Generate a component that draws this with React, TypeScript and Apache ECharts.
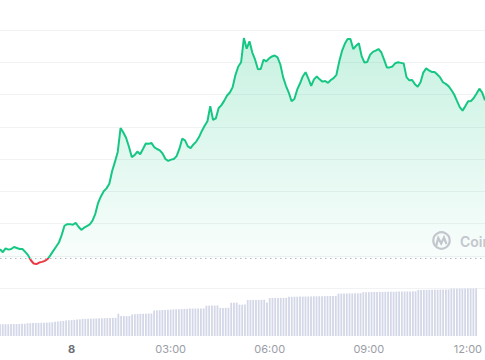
import React, { useEffect, useRef } from "react";
import * as echarts from "echarts";

// price (unitless, gridlines every 10), one point per 5 minutes starting 21:50
const priceValues: number[] = [
  12.0, 11.1, 12.3, 11.9, 12.1, 12.7, 12.4, 12.1, 12.1, 11.2,
  10.2, 8.6, 7.6, 7.4, 7.9, 8.1, 8.4, 9.0, 10.2, 11.5,
  12.8, 14.1, 16.4, 19.3, 19.8, 19.8, 19.6, 20.2, 19.0, 18.0,
  18.7, 19.2, 19.7, 20.9, 23.0, 26.4, 28.4, 30.0, 30.9, 32.3,
  36.3, 39.1, 42.2, 49.6, 48.2, 46.5, 43.8, 40.6, 41.2, 42.3,
  41.5, 43.1, 44.8, 44.7, 45.0, 43.7, 43.1, 42.7, 41.7, 40.0,
  39.4, 39.8, 40.0, 40.9, 43.2, 46.3, 45.8, 43.9, 43.4, 44.5,
  45.4, 46.8, 48.7, 50.3, 51.7, 56.4, 52.1, 52.6, 55.8, 56.7,
  58.1, 59.7, 60.6, 62.3, 66.1, 68.7, 70.0, 77.5, 74.2, 76.5,
  73.0, 70.8, 67.8, 67.9, 70.8, 70.3, 71.2, 71.8, 72.1, 71.5,
  69.3, 65.3, 62.7, 60.6, 57.9, 58.6, 61.5, 63.4, 65.6, 66.9,
  64.9, 62.7, 64.7, 65.6, 64.7, 64.0, 64.2, 63.6, 64.5, 65.1,
  66.1, 70.2, 73.5, 75.7, 77.2, 77.2, 74.1, 75.1, 75.9, 71.9,
  69.9, 70.1, 72.3, 73.2, 73.6, 74.1, 73.1, 70.8, 68.4, 68.4,
  68.7, 69.7, 70.0, 69.8, 69.6, 65.4, 64.4, 64.5, 63.2, 62.4,
  63.8, 66.8, 68.1, 67.5, 67.0, 67.0, 66.2, 65.3, 63.8, 63.3,
  62.6, 61.4, 60.0, 58.0, 56.1, 55.0, 56.4, 57.9, 58.0, 58.9,
  60.3, 61.8, 60.6, 58.2,
];

const volumeValues: number[] = [
  12.0, 12.0, 12.1, 12.1, 12.2, 12.2, 12.3, 12.3, 12.4, 12.5,
  13.0, 13.1, 13.2, 13.3, 13.4, 13.5, 13.6, 13.7, 13.8, 14.0,
  14.5, 14.8, 15.1, 15.4, 15.7, 16.0, 16.2, 16.5, 16.8, 17.0,
  17.5, 17.5, 17.6, 17.7, 17.8, 17.9, 18.0, 18.1, 18.2, 18.3,
  18.4, 18.5, 18.5, 22.7, 20.3, 20.3, 20.3, 20.4, 22.0, 22.2,
  22.4, 22.6, 22.7, 22.8, 22.9, 23.0, 26.0, 26.1, 26.3, 26.5,
  26.6, 26.8, 27.0, 27.1, 27.3, 27.4, 27.5, 27.6, 27.7, 28.0,
  28.0, 28.1, 28.1, 28.2, 28.2, 31.0, 31.0, 31.1, 31.1, 31.2,
  28.7, 28.7, 28.8, 28.8, 34.0, 34.0, 34.1, 32.0, 32.0, 32.1,
  36.7, 36.7, 36.8, 36.8, 36.9, 36.9, 37.0, 34.3, 38.7, 38.7,
  38.8, 38.8, 38.9, 38.9, 39.0, 40.0, 40.0, 40.1, 40.1, 40.2,
  40.2, 40.3, 40.3, 40.4, 40.5, 40.5, 40.6, 40.7, 40.7, 40.8,
  40.8, 40.9, 41.0, 43.3, 43.3, 43.4, 43.4, 43.5, 43.5, 43.6,
  43.6, 43.7, 44.7, 44.7, 44.8, 44.8, 44.9, 44.9, 45.0, 45.0,
  45.1, 45.1, 45.2, 45.2, 45.3, 45.3, 45.4, 45.4, 45.5, 45.5,
  45.6, 45.6, 47.0, 47.0, 47.1, 47.1, 47.2, 47.2, 47.3, 47.3,
  47.4, 47.4, 47.5, 47.5, 48.3, 48.3, 48.3, 48.4, 48.4, 48.4,
  48.5, 48.5, 48.5, 48.6,
];

const baselineValue = 9.3;
const tickLabels: string[] = ["00:00", "03:00", "06:00", "09:00", "12:00"];
const startMinutes = 21 * 60 + 50;
const stepMinutes = 5;

const timeCategories: string[] = priceValues.map((_, i) => {
  const m = (startMinutes + i * stepMinutes) % (24 * 60);
  const hh = String(Math.floor(m / 60)).padStart(2, "0");
  const mm = String(m % 60).padStart(2, "0");
  return `${hh}:${mm}`;
});

export default function App() {
  const ref = useRef<HTMLDivElement>(null);

  useEffect(() => {
    document.body.style.margin = "0";
    if (!ref.current) return;
    const chart = echarts.init(ref.current, undefined, { renderer: "svg" });
    const green = "#16c784";
    const red = "#ea3943";
    chart.setOption({
      animation: false,
      textStyle: { fontFamily: "Inter, 'Noto Sans', sans-serif" },
      grid: [
        { left: 0, right: 0, top: 30, height: 258 },
        { left: 0, right: 0, top: 288, height: 48 },
      ],
      xAxis: [
        {
          type: "category",
          gridIndex: 0,
          data: timeCategories,
          boundaryGap: false,
          axisLine: { show: false },
          axisTick: { show: false },
          axisLabel: { show: false },
          splitLine: { show: false },
        },
        {
          type: "category",
          gridIndex: 1,
          data: timeCategories,
          boundaryGap: false,
          axisLine: { show: false },
          axisTick: { show: false },
          splitLine: { show: false },
          axisLabel: {
            margin: 7,
            fontSize: 11,
            color: "#9a9ea6",
            interval: (_: number, value: string) => tickLabels.includes(value),
            formatter: (value: string) => (value === "00:00" ? "{b|8}" : value),
            rich: {
              b: { fontSize: 11, fontWeight: "bold", color: "#6b6f76" },
            },
          },
        },
      ],
      yAxis: [
        {
          type: "value",
          gridIndex: 0,
          min: 0,
          max: 80,
          interval: 10,
          axisLine: { show: false },
          axisTick: { show: false },
          axisLabel: { show: false },
          splitLine: { show: true, lineStyle: { color: "#f1f2f4", width: 1 } },
        },
        {
          type: "value",
          gridIndex: 1,
          min: 0,
          max: 49,
          axisLine: { show: false },
          axisTick: { show: false },
          axisLabel: { show: false },
          splitLine: { show: false },
        },
      ],
      visualMap: {
        show: false,
        type: "piecewise",
        seriesIndex: 0,
        dimension: 1,
        pieces: [
          { min: -100, max: baselineValue, color: red },
          { min: baselineValue, max: 200, color: green },
        ],
      },
      series: [
        {
          type: "line",
          xAxisIndex: 0,
          yAxisIndex: 0,
          data: priceValues,
          showSymbol: false,
          symbol: "none",
          lineStyle: { width: 2 },
          areaStyle: {
            origin: baselineValue,
            color: new echarts.graphic.LinearGradient(0, 0, 0, 1, [
              { offset: 0, color: "rgba(22,199,132,0.34)" },
              { offset: 1, color: "rgba(22,199,132,0.03)" },
            ]),
          },
          markLine: {
            silent: true,
            symbol: "none",
            label: { show: false },
            lineStyle: { color: "#b4b7bd", type: [1.5, 3.5], width: 1 },
            data: [{ yAxis: baselineValue }],
          },
          z: 3,
        },
        {
          type: "bar",
          xAxisIndex: 1,
          yAxisIndex: 1,
          data: volumeValues,
          barCategoryGap: "35%",
          itemStyle: { color: "#d3d7e7" },
        },
      ],
      graphic: [
        {
          type: "circle",
          shape: { cx: 441.5, cy: 240.5, r: 8.2 },
          style: { fill: "none", stroke: "#c3c6cd", lineWidth: 2.2 },
          z: 10,
        },
        {
          type: "polyline",
          shape: {
            points: [
              [436, 246.5],
              [438.3, 238],
              [441.2, 243.5],
              [444, 237.5],
              [446.5, 244],
            ],
          },
          style: { fill: "none", stroke: "#c3c6cd", lineWidth: 2.2 },
          z: 10,
        },
        {
          type: "text",
          x: 460,
          y: 241,
          style: {
            text: "CoinGecko",
            fill: "#c3c6cd",
            fontSize: 14,
            fontWeight: 600,
            fontFamily: "Inter, sans-serif",
            verticalAlign: "middle",
          },
          z: 10,
        },
      ],
    });
    return () => chart.dispose();
  }, []);

  return <div ref={ref} style={{ width: 485, height: 360 }} />;
}
